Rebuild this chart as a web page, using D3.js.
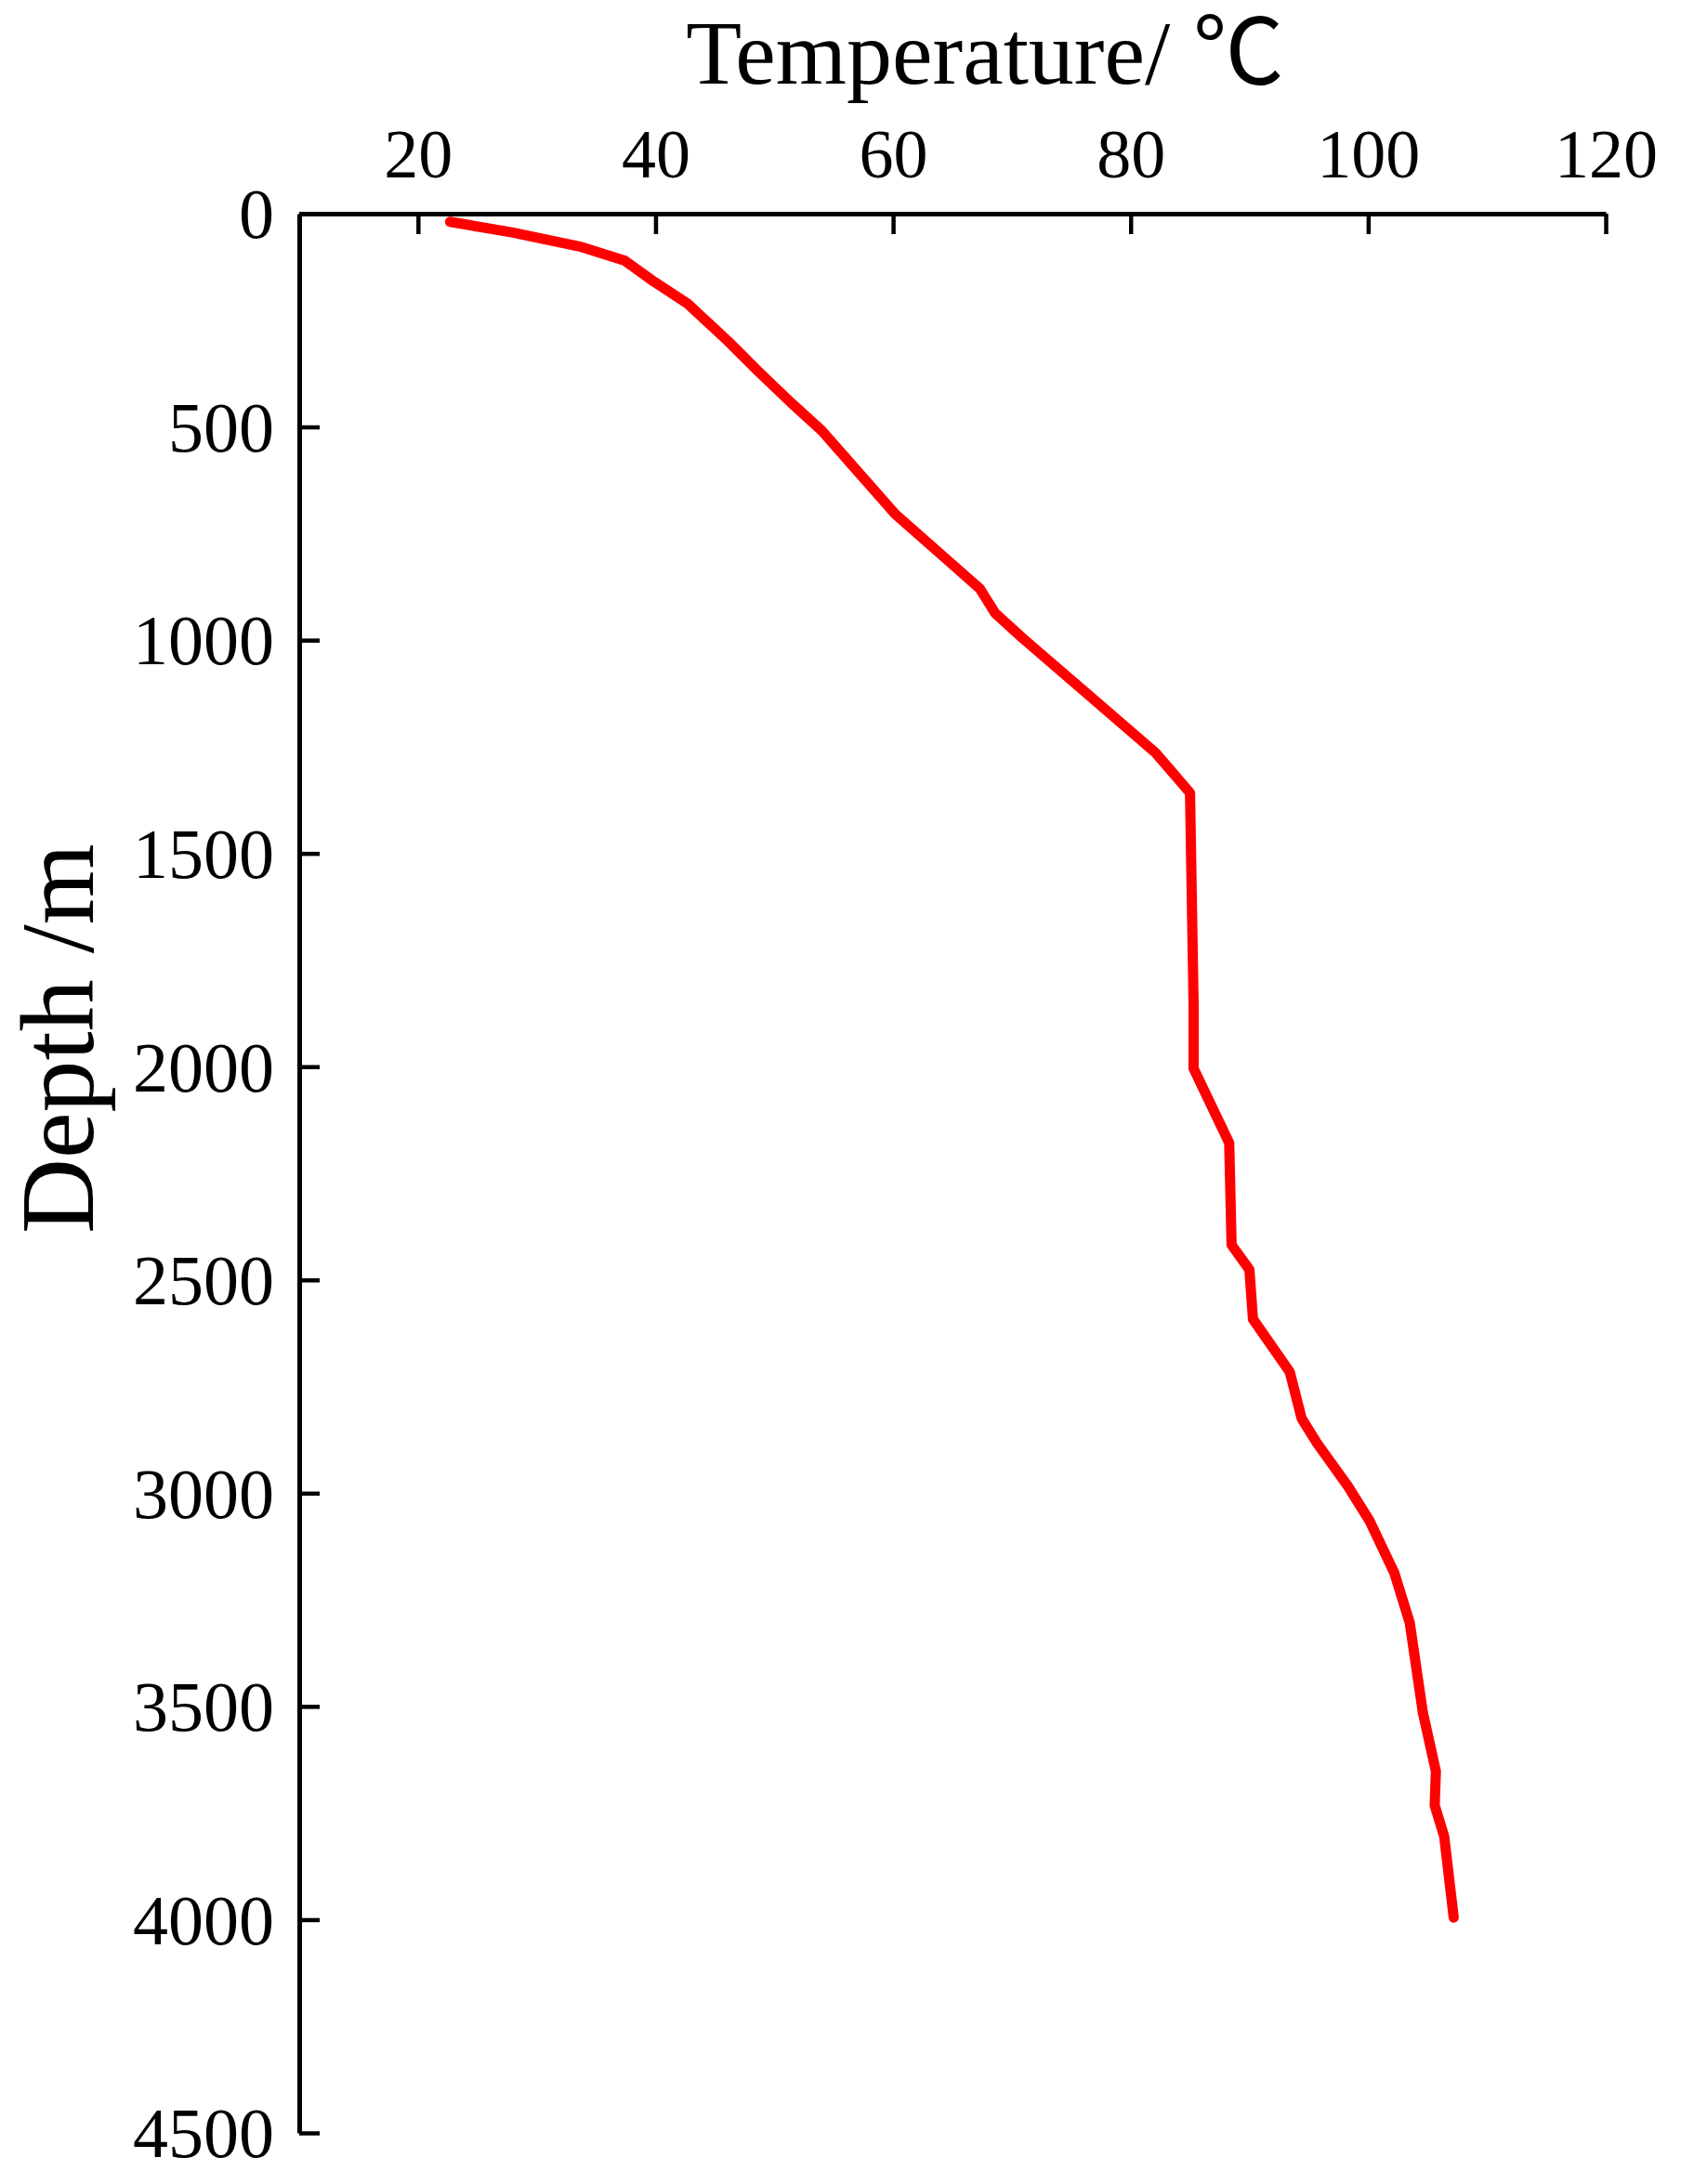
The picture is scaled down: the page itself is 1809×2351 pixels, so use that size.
<!DOCTYPE html>
<html lang="en">
<head>
    <meta charset="utf-8">
    <title>Temperature vs depth</title>
    <script src="https://d3js.org/d3.v7.min.js"></script>
    <style>
      body { margin: 0; background: #fff; }
      .tick text { font-family: "Liberation Serif", "Times New Roman", serif; }
    </style>
</head>
<body>
<div id="container-1"></div>
<script type="text/javascript">
// values
var temperature = [22.7, 27.9, 33.6, 37.4, 39.9, 42.7, 46.1, 48.7, 51.4, 54.0, 60.2,
                   67.3, 68.6, 70.9, 82.1, 85.0, 85.3, 85.3, 88.3, 88.5, 90.0, 90.3,
                   93.4, 94.4, 95.7, 98.3, 100.1, 102.2, 103.5, 104.6, 105.7, 105.6,
                   106.4, 107.2];
var depth = [19, 44, 77, 110, 160, 211, 299, 371, 443, 509, 705,
             879, 937, 995, 1264, 1358, 1852, 2004, 2179, 2418, 2476, 2592,
             2716, 2825, 2883, 2984, 3064, 3187, 3304, 3514, 3652, 3732,
             3805, 3995];
var tempTicks = [20, 40, 60, 80, 100, 120];
var depthTicks = [0, 500, 1000, 1500, 2000, 2500, 3000, 3500, 4000, 4500];

var width = 1809,
    height = 2351,
    margin = { top: 230, left: 322, right: 81, bottom: 55 };

var svg = d3.select('#container-1').append('svg')
    .attr('width', width)
    .attr('height', height)
    .style('background', '#fff');

var x = d3.scaleLinear()
    .domain([10, 120])
    .range([margin.left, width - margin.right]);

var y = d3.scaleLinear()
    .domain([0, 4500])
    .range([margin.top, height - margin.bottom]);

/* axes: x on top, ticks pointing into the plot */
var xAxis = svg.append('g')
    .attr('transform', `translate(0,${margin.top})`)
    .call(d3.axisTop(x).tickValues(tempTicks).tickFormat(d3.format('d'))
      .tickSize(-22).tickPadding(39).tickSizeOuter(0));

var yAxis = svg.append('g')
    .attr('transform', `translate(${margin.left},0)`)
    .call(d3.axisLeft(y).tickValues(depthTicks).tickFormat(d3.format('d'))
      .tickSize(-22).tickPadding(27).tickSizeOuter(0));

[xAxis, yAxis].forEach(function (ax) {
  ax.select('.domain').attr('stroke', '#000').attr('stroke-width', 5);
  ax.selectAll('.tick line').attr('stroke', '#000').attr('stroke-width', 4.5);
  ax.selectAll('.tick text').attr('fill', '#000').style('font-size', '74px');
});
yAxis.selectAll('.tick text').attr('dy', '0.34em').style('font-size', '76px');

/* the profile */
var points = temperature.map(function (t, i) { return [t, depth[i]]; });
var line = d3.line()
    .x(d => x(d[0]))
    .y(d => y(d[1]));

svg.append('path')
    .datum(points)
    .attr('d', line)
    .attr('fill', 'none')
    .attr('stroke', '#ff0000')
    .attr('stroke-width', 11)
    .attr('stroke-linejoin', 'round')
    .attr('stroke-linecap', 'round');

/* titles */
svg.append('text')
    .attr('x', 1060)
    .attr('y', 90)
    .attr('text-anchor', 'middle')
    .style('font-family', '"Liberation Serif", "Noto Sans CJK SC", serif')
    .style('font-size', '98px')
    .text('Temperature/ ℃');

svg.append('text')
    .attr('transform', 'translate(100,1118) rotate(-90)')
    .attr('text-anchor', 'middle')
    .style('font-family', '"Liberation Serif", serif')
    .style('font-size', '112px')
    .text('Depth /m');
</script>
</body>
</html>
